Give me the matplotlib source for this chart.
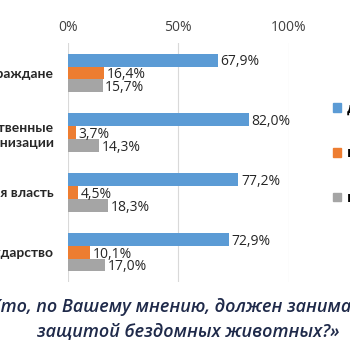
import matplotlib.pyplot as plt
import numpy as np
from matplotlib.patches import Patch

categories = ["Граждане", "Общественные\nорганизации", "Местная власть", "Государство"]
series_names = ["да", "нет", "не знаю"]
yes_vals = [67.9, 82.0, 77.2, 72.9]
no_vals = [16.4, 3.7, 4.5, 10.1]
unknown_vals = [15.7, 14.3, 18.3, 17.0]
ticks = [0, 50, 100]
title_lines = ["«Кто, по Вашему мнению, должен заниматься", "защитой бездомных животных?»"]

colors = ["#5B9BD5", "#ED7D31", "#A5A5A5"]

plt.rcParams['font.family'] = ['Open Sans', 'DejaVu Sans']

fig = plt.figure(figsize=(3.5, 3.5), dpi=100)
ax = fig.add_axes([0.194, 0.194, 0.631, 0.683])

y = np.arange(len(categories))
h = 0.215
for k, vals in enumerate([yes_vals, no_vals, unknown_vals]):
    pos = y + (k - 1) * h
    ax.barh(pos, vals, height=h, color=colors[k], zorder=2)
    for p, v in zip(pos, vals):
        ax.text(v + 1.2, p + 0.03, f"{v:.1f}%".replace(".", ","), va="center", ha="left",
                fontsize=10, color="#262626")

ax.set_xlim(0, 100)
ax.set_ylim(len(categories) - 0.5, -0.5)
ax.set_xticks(ticks)
ax.set_xticklabels([f"{t}%" for t in ticks], fontsize=10, color="#404040")
ax.xaxis.tick_top()
ax.tick_params(axis="x", length=0, pad=6)
ax.set_yticks(y)
ax.set_yticklabels(categories, fontsize=10, fontweight="bold", color="#262626",
                   family=["Lato", "DejaVu Sans"], linespacing=1.35)
ax.tick_params(axis="y", length=0, pad=10)
ax.grid(axis="x", color="#d9d9d9", linewidth=0.8, zorder=0)
for s in ax.spines.values():
    s.set_visible(False)

handles = [Patch(color=c) for c in colors]
fig.legend(handles, series_names, loc="upper left", bbox_to_anchor=(0.935, 0.725),
           frameon=False, handlelength=0.6, handleheight=0.6, handletextpad=0.4,
           labelspacing=2.2, prop={"size": 10, "weight": "bold"}, borderaxespad=0)

fig.text(0.537, 0.122, title_lines[0], ha="center", va="center", fontsize=13,
         style="italic", weight="semibold", color="#1f2a4a")
fig.text(0.537, 0.05, title_lines[1], ha="center", va="center", fontsize=13,
         style="italic", weight="semibold", color="#1f2a4a")

fig.savefig("out.png", dpi=100)
